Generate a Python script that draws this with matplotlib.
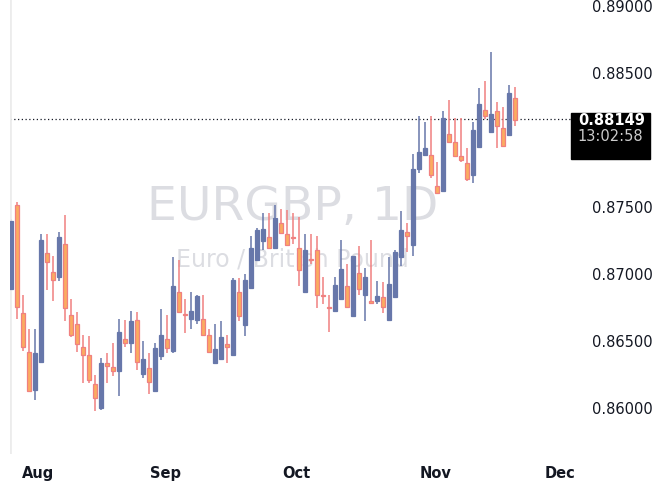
import matplotlib
matplotlib.use("Agg")
import matplotlib.pyplot as plt
import numpy as np

opens  = [0.8688,0.8751,0.8670,0.8641,0.8613,0.8634,0.8715,0.8701,0.8697,0.8722,0.8669,0.8662,0.8645,0.8639,0.8617,0.8599,0.8633,0.8630,0.8627,0.8651,0.8648,0.8665,0.8625,0.8629,0.8612,0.8638,0.8651,0.8642,0.8686,0.8669,0.8666,0.8665,0.8666,0.8654,0.8633,0.8636,0.8647,0.8639,0.8686,0.8661,0.8689,0.8710,0.8724,0.8727,0.8719,0.8737,0.8729,0.8726,0.8719,0.8686,0.8710,0.8717,0.8683,0.8674,0.8672,0.8681,0.8690,0.8668,0.8700,0.8684,0.8678,0.8679,0.8682,0.8665,0.8682,0.8712,0.8731,0.8721,0.8778,0.8788,0.8788,0.8765,0.8761,0.8804,0.8798,0.8787,0.8782,0.8773,0.8794,0.8822,0.8805,0.8821,0.8808,0.8803,0.8831]
highs  = [0.8740,0.8753,0.8684,0.8658,0.8658,0.8729,0.8729,0.8713,0.8731,0.8743,0.8681,0.8671,0.8654,0.8653,0.8624,0.8637,0.8640,0.8648,0.8666,0.8665,0.8672,0.8671,0.8649,0.8640,0.8648,0.8673,0.8669,0.8712,0.8710,0.8681,0.8686,0.8684,0.8684,0.8658,0.8662,0.8664,0.8654,0.8696,0.8696,0.8699,0.8728,0.8734,0.8745,0.8745,0.8751,0.8748,0.8747,0.8745,0.8742,0.8729,0.8729,0.8728,0.8697,0.8684,0.8697,0.8725,0.8707,0.8713,0.8720,0.8704,0.8725,0.8694,0.8693,0.8712,0.8717,0.8746,0.8737,0.8789,0.8817,0.8813,0.8817,0.8783,0.8821,0.8829,0.8816,0.8816,0.8793,0.8813,0.8838,0.8843,0.8865,0.8828,0.8824,0.8840,0.8839]
lows   = [0.8687,0.8666,0.8642,0.8612,0.8605,0.8633,0.8687,0.8679,0.8694,0.8664,0.8652,0.8641,0.8618,0.8618,0.8597,0.8598,0.8618,0.8623,0.8608,0.8645,0.8640,0.8628,0.8622,0.8610,0.8612,0.8635,0.8640,0.8640,0.8671,0.8655,0.8658,0.8662,0.8654,0.8640,0.8633,0.8636,0.8633,0.8639,0.8664,0.8653,0.8689,0.8709,0.8717,0.8719,0.8719,0.8730,0.8721,0.8722,0.8690,0.8686,0.8707,0.8674,0.8677,0.8656,0.8671,0.8681,0.8674,0.8668,0.8684,0.8664,0.8678,0.8677,0.8670,0.8664,0.8682,0.8705,0.8716,0.8713,0.8775,0.8788,0.8771,0.8760,0.8761,0.8798,0.8787,0.8783,0.8769,0.8767,0.8794,0.8815,0.8805,0.8793,0.8795,0.8803,0.8810]
closes = [0.8739,0.8675,0.8645,0.8612,0.8640,0.8725,0.8708,0.8695,0.8727,0.8674,0.8654,0.8647,0.8639,0.8620,0.8607,0.8633,0.8631,0.8627,0.8656,0.8648,0.8664,0.8634,0.8636,0.8619,0.8644,0.8654,0.8644,0.8690,0.8671,0.8669,0.8672,0.8683,0.8654,0.8641,0.8643,0.8652,0.8645,0.8695,0.8668,0.8695,0.8719,0.8732,0.8733,0.8719,0.8741,0.8730,0.8721,0.8726,0.8702,0.8717,0.8710,0.8684,0.8683,0.8674,0.8691,0.8703,0.8675,0.8713,0.8688,0.8697,0.8678,0.8683,0.8675,0.8692,0.8716,0.8732,0.8728,0.8778,0.8790,0.8793,0.8773,0.8760,0.8816,0.8798,0.8787,0.8784,0.8770,0.8807,0.8826,0.8817,0.8819,0.8810,0.8795,0.8834,0.8814]
month_labels = ["Aug", "Sep", "Oct", "Nov", "Dec"]
month_pos = [4.5, 25.7, 47.5, 70.7, 91.5]
price_ticks = [0.860, 0.865, 0.870, 0.875, 0.885, 0.890]
last_price = 0.88149

UP, DN, DNW = "#6777aa", "#fbab60", "#f08080"
fig = plt.figure(figsize=(6.7, 5.02), dpi=100)
ax = fig.add_axes([10/670, 47/502, 565/670, 455/502])
o, h, l, c = map(np.array, (opens, highs, lows, closes))
x = np.arange(len(o))
up = c >= o
up[[29, 47, 50, 52, 53, 60]] = False
for m, col, ec in ((up, UP, UP), (~up, DN, DNW)):
    ax.vlines(x[m], l[m], h[m], color=ec, lw=1.1, zorder=2)
    bottom = np.minimum(o[m], c[m])
    height = np.maximum(np.abs(c[m] - o[m]), 0.00008)
    ax.bar(x[m], height, bottom=bottom, width=0.66, color=col, edgecolor=ec, lw=0.9, zorder=3)

ax.set_xlim(-0.17, 94)
ax.set_ylim(0.8565, 0.89045)
for s in ax.spines.values():
    s.set_visible(False)
ax.axvline(-0.17, color="#ececec", lw=2)
ax.yaxis.tick_right()
ax.set_yticks(price_ticks)
ax.set_yticklabels([f"{p:.5f}" for p in price_ticks], fontsize=10.5, color="#131722")
ax.tick_params(axis="y", length=0, pad=12)
ax.set_xticks(month_pos)
ax.set_xticklabels(month_labels, fontsize=10.5, color="#131722", fontweight="semibold")
ax.tick_params(axis="x", length=0, pad=8)

ax.text(0.5, 0.545, "EURGBP, 1D", transform=ax.transAxes, ha="center", va="center",
        fontsize=34, color="#dcdde2", zorder=0)
ax.text(0.5, 0.43, "Euro / British Pound", transform=ax.transAxes, ha="center", va="center",
        fontsize=17, color="#dcdde2", zorder=0)
ax.axhline(last_price, color="#131722", lw=0.9, ls=(0, (1, 2)), zorder=1)
yt = ax.get_yaxis_transform()
ax.text(1.005, last_price, "0.88149\n13:02:58", transform=yt, ha="left", va="top",
        fontsize=10.5, color=(0, 0, 0, 0), linespacing=1.3,
        bbox=dict(boxstyle="square,pad=0.45", fc="black", ec="black"), zorder=5)
ax.text(1.005, last_price, "0.88149", transform=yt, ha="left", va="center",
        fontsize=10.5, color="white", fontweight="bold", zorder=6)
ax.text(1.005, last_price - 0.00123, "13:02:58", transform=yt, ha="left", va="center",
        fontsize=10.5, color="#cccccc", zorder=6)
fig.savefig("out.png", dpi=100)
